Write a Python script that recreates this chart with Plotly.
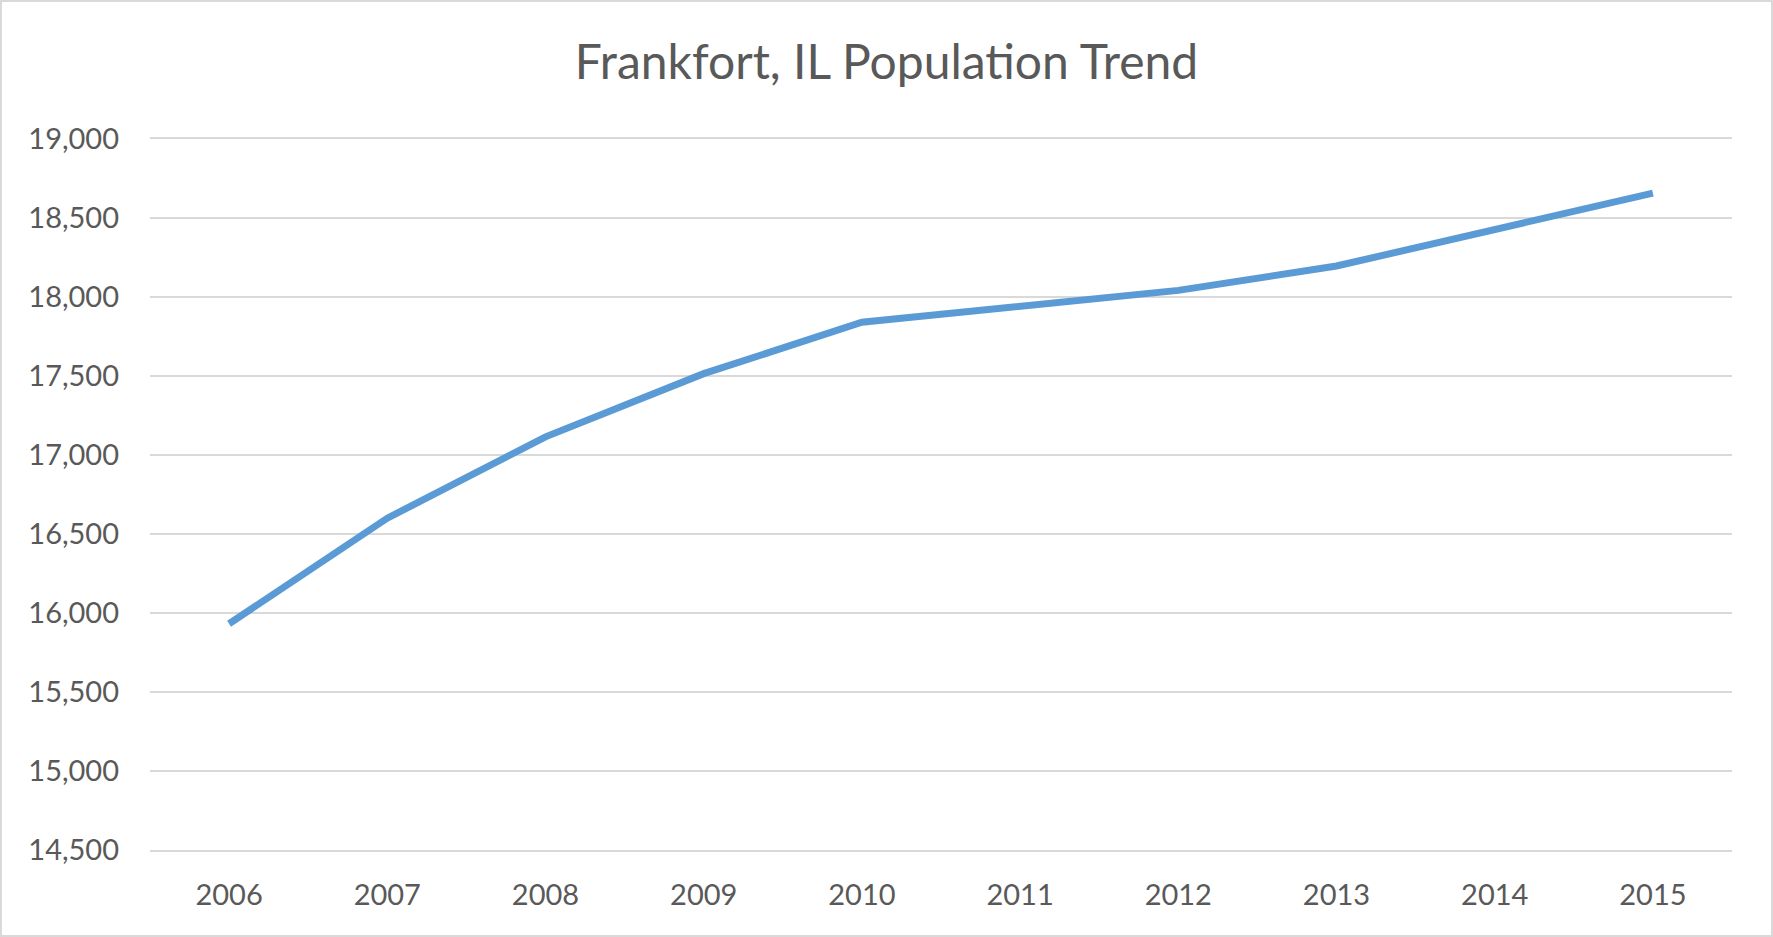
import plotly.graph_objects as go

years = ["2006", "2007", "2008", "2009", "2010", "2011", "2012", "2013", "2014", "2015"]
population = [15932, 16600, 17115, 17515, 17840, 17940, 18042, 18196, 18422, 18658]

y_ticks = [14500, 15000, 15500, 16000, 16500, 17000, 17500, 18000, 18500, 19000]

text_col = "#595959"
grid_col = "#d9d9d9"
font_name = "Lato"

fig = go.Figure()
fig.add_trace(go.Scatter(
    x=years, y=population, mode="lines",
    line=dict(color="#5b9bd5", width=7),
    hoverinfo="x+y",
))

fig.update_layout(
    width=1773, height=937,
    margin=dict(l=150, r=41, t=139, b=87),
    paper_bgcolor="white", plot_bgcolor="white",
    showlegend=False,
    font=dict(family=font_name, color=text_col, size=29),
    title=dict(
        text="Frankfort, IL Population Trend",
        x=0.5, xanchor="center", xref="container",
        y=1 - 62 / 937, yanchor="middle", yref="container",
        font=dict(family=font_name, size=48, color=text_col),
    ),
)

# mirrored x line gives the bottom (14,500) and top (19,000) rules
fig.update_xaxes(
    type="category", range=[-0.5, 9.5],
    showgrid=False, zeroline=False,
    showline=True, mirror=True, linecolor=grid_col, linewidth=2,
    ticks="", ticklabelstandoff=18,
    tickfont=dict(family=font_name, size=29, color=text_col),
)
fig.update_yaxes(
    range=[14500, 19000], tickvals=y_ticks,
    tickformat=",d",
    showgrid=True, gridcolor=grid_col, gridwidth=2,
    zeroline=False, showline=False,
    ticks="", ticklabelstandoff=30,
    tickfont=dict(family=font_name, size=29, color=text_col),
)

# light border around the whole chart area
fig.add_shape(
    type="rect", xref="paper", yref="paper",
    x0=-149 / 1582, x1=1 + 40 / 1582, y0=-86 / 711, y1=1 + 138 / 711,
    line=dict(color=grid_col, width=2), fillcolor="rgba(0,0,0,0)",
    layer="below",
)

fig.write_html(
    "out.html",
    config={"displayModeBar": False},
    post_script="document.body.style.margin='0';",
)
